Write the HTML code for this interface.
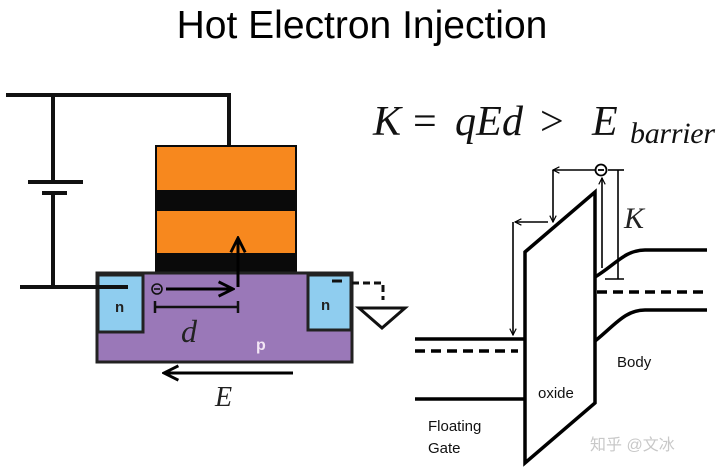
<!DOCTYPE html>
<html><head><meta charset="utf-8"><style>html,body{margin:0;padding:0;background:#fff}svg{display:block}</style></head>
<body>
<svg width="720" height="472" viewBox="0 0 720 472" xmlns="http://www.w3.org/2000/svg">
<defs>
<marker id="ah" viewBox="0 0 10 10" refX="9" refY="5" markerWidth="6" markerHeight="6" orient="auto-start-reverse"><path d="M1,1 L9,5 L1,9" fill="none" stroke="#000" stroke-width="1.6"/></marker>
<marker id="ah2" viewBox="0 0 10 10" refX="9" refY="5" markerWidth="5" markerHeight="5" orient="auto-start-reverse"><path d="M1,1 L9,5 L1,9" fill="none" stroke="#000" stroke-width="1.5"/></marker>
</defs>
<text x="362" y="38" text-anchor="middle" font-family="Liberation Sans, sans-serif" font-size="39" fill="#000">Hot Electron Injection</text>
<g font-family="Liberation Serif, serif" font-size="42" fill="#111">
<text x="373" y="135" font-style="italic">K</text>
<text x="413" y="135">=</text>
<text x="455" y="135" font-style="italic" textLength="68" lengthAdjust="spacing">qEd</text>
<text x="540" y="135">&gt;</text>
<text x="592" y="135" font-style="italic">E</text>
</g>
<text x="630" y="143" font-family="Liberation Serif, serif" font-style="italic" font-size="30" fill="#111" textLength="85" lengthAdjust="spacing">barrier</text>
<!-- circuit -->
<g stroke="#111" stroke-width="4" fill="none">
<polyline points="6,95 229,95 229,145"/>
<line x1="53" y1="95" x2="53" y2="182"/>
<line x1="28" y1="182" x2="83" y2="182"/>
<line x1="42" y1="193" x2="67" y2="193"/>
<line x1="53" y1="193" x2="53" y2="287"/>
</g>
<!-- gate stack -->
<rect x="155" y="145" width="142" height="128" fill="#0a0a0a"/>
<rect x="157" y="147" width="138" height="43" fill="#f7881e"/>
<rect x="157" y="211" width="138" height="42" fill="#f7881e"/>
<!-- substrate -->
<rect x="97" y="273" width="255" height="89" fill="#9a78b8" stroke="#222" stroke-width="3"/>
<rect x="98" y="275" width="45" height="57" fill="#8fcdef" stroke="#222" stroke-width="3"/>
<rect x="308" y="275" width="43" height="55" fill="#8fcdef" stroke="#222" stroke-width="3"/>
<line x1="20" y1="287" x2="128" y2="287" stroke="#111" stroke-width="4"/>
<text x="115" y="312" font-family="Liberation Sans, sans-serif" font-weight="bold" font-size="15" fill="#222">n</text>
<text x="321" y="310" font-family="Liberation Sans, sans-serif" font-weight="bold" font-size="15" fill="#222">n</text>
<text x="256" y="350" font-family="Liberation Sans, sans-serif" font-weight="bold" font-size="16" fill="#f3e6f5">p</text>
<circle cx="157" cy="289" r="5" fill="none" stroke="#111" stroke-width="1.6"/>
<line x1="154" y1="289" x2="160" y2="289" stroke="#111" stroke-width="1.6"/>
<line x1="166" y1="289" x2="233" y2="289" stroke="#000" stroke-width="3" marker-end="url(#ah)"/>
<line x1="238" y1="287" x2="238" y2="238" stroke="#000" stroke-width="3" marker-end="url(#ah)"/>
<g stroke="#111" stroke-width="2.5"><line x1="155" y1="307" x2="238" y2="307"/><line x1="155" y1="301" x2="155" y2="313"/><line x1="238" y1="301" x2="238" y2="313"/></g>
<text x="181" y="342" font-family="Liberation Serif, serif" font-style="italic" font-size="32" fill="#222">d</text>
<line x1="293" y1="373" x2="164" y2="373" stroke="#000" stroke-width="3" marker-end="url(#ah)"/>
<text x="215" y="406" font-family="Liberation Serif, serif" font-style="italic" font-size="28" fill="#222">E</text>
<!-- ground -->
<line x1="332" y1="281" x2="342" y2="281" stroke="#111" stroke-width="3"/>
<polyline points="352,283 383,283 383,300" fill="none" stroke="#111" stroke-width="3" stroke-dasharray="7,4"/>
<polygon points="359,308 405,308 382,328" fill="none" stroke="#111" stroke-width="3"/>
<!-- band diagram -->
<polygon points="525,252 595,192 595,403 525,463" fill="#fff" stroke="#000" stroke-width="3.5"/>
<g stroke="#000" stroke-width="3.5" fill="none">
<line x1="415" y1="339" x2="525" y2="339"/>
<line x1="415" y1="351" x2="518" y2="351" stroke-dasharray="10,6"/>
<line x1="415" y1="399" x2="525" y2="399"/>
<path d="M595,277 C615,265 625,250 645,250 L707,250"/>
<line x1="597" y1="292" x2="707" y2="292" stroke-dasharray="10,6"/>
<path d="M595,341 C615,325 625,310 645,310 L707,310"/>
</g>
<g stroke="#000" stroke-width="1.6" fill="none">
<line x1="618" y1="170" x2="618" y2="279"/>
<line x1="608" y1="170" x2="624" y2="170"/>
<line x1="605" y1="279" x2="624" y2="279"/>
<line x1="595" y1="170" x2="553" y2="170" marker-end="url(#ah2)"/>
<polyline points="553,170 553,222" marker-end="url(#ah2)"/>
<line x1="548" y1="222" x2="515" y2="222" marker-end="url(#ah2)"/>
<polyline points="513,222 513,335" marker-end="url(#ah2)"/>
<line x1="602" y1="268" x2="602" y2="178" marker-end="url(#ah2)"/>
<circle cx="601" cy="170" r="5.5" stroke-width="1.8"/>
<line x1="598" y1="170" x2="604" y2="170" stroke-width="1.8"/>
</g>
<text x="624" y="228" font-family="Liberation Serif, serif" font-style="italic" font-size="30" fill="#222">K</text>
<g font-family="Liberation Sans, sans-serif" font-size="15" fill="#111">
<text x="617" y="367">Body</text>
<text x="538" y="398">oxide</text>
<text x="428" y="431">Floating</text>
<text x="428" y="453">Gate</text>
</g>
<text x="590" y="450" font-family="Liberation Sans, Noto Sans CJK SC, sans-serif" font-size="16" fill="#c8c8c8">知乎 @文冰</text>
</svg>
</body></html>
